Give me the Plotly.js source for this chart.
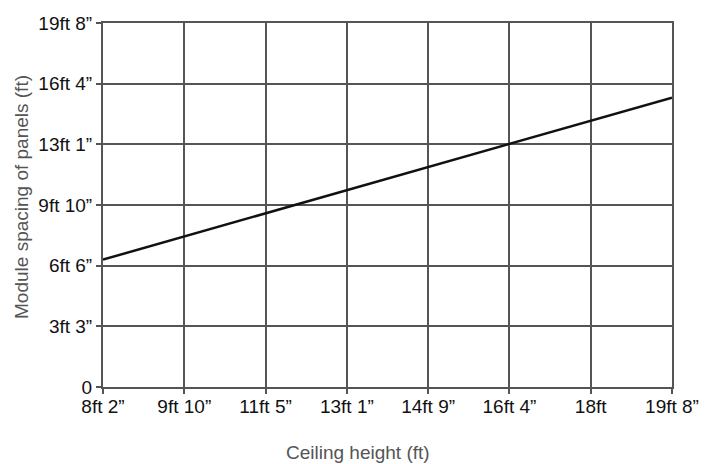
<!DOCTYPE html>
<html>
<head>
<meta charset="utf-8">
<script src="https://cdn.plot.ly/plotly-3.0.1.min.js"></script>
<style>html,body{margin:0;padding:0;background:#fff;}#chart{width:711px;height:464px;}</style>
</head>
<body>
<div id="chart"></div>
<script>
// Values in metres; tick labels in feet/inches
var ceilingHeight = [2.5, 6.0];
var moduleSpacing = [2.1, 4.77];
var xTickVals = [2.5, 3, 3.5, 4, 4.5, 5, 5.5, 6];
var xTickText = ['8ft 2\u201d', '9ft 10\u201d', '11ft 5\u201d', '13ft 1\u201d', '14ft 9\u201d', '16ft 4\u201d', '18ft', '19ft 8\u201d'];
var yTickVals = [0, 1, 2, 3, 4, 5, 6];
var yTickText = ['0', '3ft 3\u201d', '6ft 6\u201d', '9ft 10\u201d', '13ft 1\u201d', '16ft 4\u201d', '19ft 8\u201d'];
var xTitle = 'Ceiling height (ft)';
var yTitle = 'Module spacing of panels (ft)';

var gridColor = '#555555';
var trace = {
  x: ceilingHeight, y: moduleSpacing, mode: 'lines', type: 'scatter',
  line: {color: '#111111', width: 2.5}, hoverinfo: 'none'
};
var layout = {
  width: 711, height: 464,
  margin: {l: 103, r: 39, t: 23, b: 77},
  paper_bgcolor: '#fff', plot_bgcolor: '#fff',
  font: {family: 'Liberation Sans, Arial, sans-serif', size: 19, color: '#111'},
  showlegend: false,
  xaxis: {
    range: [2.5, 6], tickmode: 'array', tickvals: xTickVals, ticktext: xTickText,
    showgrid: true, gridcolor: gridColor, gridwidth: 2,
    showline: true, linecolor: gridColor, linewidth: 2, mirror: true,
    ticks: 'outside', ticklen: 5, tickwidth: 2, tickcolor: gridColor,
    ticklabelstandoff: -4,
    zeroline: false, tickfont: {size: 19, color: '#111'}
  },
  yaxis: {
    range: [0, 6], tickmode: 'array', tickvals: yTickVals, ticktext: yTickText,
    showgrid: true, gridcolor: gridColor, gridwidth: 2,
    showline: true, linecolor: gridColor, linewidth: 2, mirror: true,
    ticks: 'outside', ticklen: 5, tickwidth: 2, tickcolor: gridColor,
    zeroline: false, tickfont: {size: 19, color: '#111'}
  },
  annotations: [
    {text: xTitle, xref: 'paper', yref: 'paper', x: 0.448, y: -0.181,
     xanchor: 'center', yanchor: 'middle', showarrow: false,
     font: {size: 19, color: '#555'}},
    {text: yTitle, xref: 'paper', yref: 'paper', x: -0.1424, y: 0.522,
     xanchor: 'center', yanchor: 'middle', showarrow: false, textangle: -90,
     font: {size: 19, color: '#555'}}
  ]
};
Plotly.newPlot('chart', [trace], layout, {staticPlot: true, displayModeBar: false});
</script>
</body>
</html>
